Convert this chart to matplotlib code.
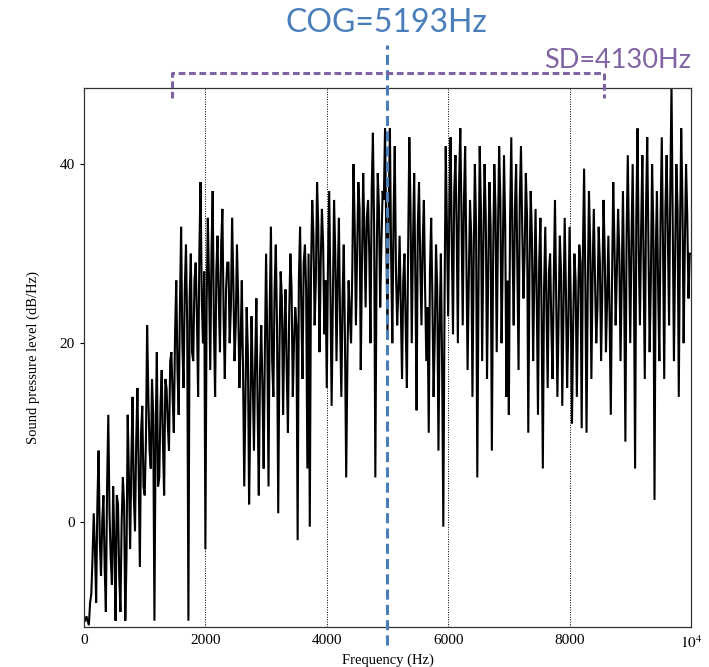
import numpy as np
import matplotlib
matplotlib.use('Agg')
import matplotlib.pyplot as plt

# spectrum levels (dB/Hz): peaks/troughs every 40 Hz ...
step = 40
spl_0k = [-11, -10.5, -11.5, -8, 1, -9, 8, -6, 3, -10, 12, -4, 4, -11, 2, -10, 5, -11, 12, -3, 14, -1, 15, -5, 13]
spl_1k = [3, 22, 8, 16, -11, 19, 5, 17, 3, 15, 8, 19, 10, 27, 12, 33, 15, 31, -11, 30, 18, 29, 14, 38, 20]
spl_2k = [-3, 34, 17, 37, 14, 32, 19, 35, 16, 29, 20, 34, 18, 31, 15, 27, 4, 24, 2, 23, 8, 25, 3, 22, 6]
spl_3k = [30, 4, 33, 14, 31, 1, 28, 12, 26, 10, 30, 14, 24, -2, 33, 16, 31, 6, -0.5, 36, 22, 38, 19, 35, 21]
spl_4k = [15, 37, 13, 36, 18, 34, 14, 31, 5, 27, 20, 40, 22, 38, 17, 39, 24, 36, 20, 43.5, 5, 39, 24, 37, 44]
spl_5k = [21, 44, 20, 42, 22, 32, 16, 30, 15, 43, 20, 39, 12.5, 38, 22, 36, 18, 10, 34, 14, 31, 8, 30, -0.5, 42]
spl_6k = [23, 43, 21, 41, 20, 44, 22, 42, 17, 36, 14, 40, 5, 42, 18, 40, 16, 38, 8, 40, 19, 42, 20, 41, 14]
spl_7k = [12, 43, 22, 40, 17, 42, 25, 39, 10, 37, 18, 35, 12, 34, 6, 33, 15, 30, 16, 36, 14, 32, 13, 34, 15]
spl_8k = [33, 11, 30, 14, 31, 10.5, 39.5, 10, 37, 16, 35, 20, 33, 18, 36, 19, 32, 12, 38, 22, 35, 18, 37, 9, 41]
spl_9k = [20, 40, 6, 44, 22, 41, 16, 43, 19, 40, 2.5, 37, 18, 43, 16, 41, 22, 49, 18, 40, 14, 44, 20, 40, 25, 30]

# ... and the body of the band in between (20 Hz offset)
mid_0k = [-11, -11, -9, -4, -3, 2, -2, 0, -5, 4, 1, -7, -2, 3, -6, 0, 2, -4, 5, 7, 3, 9, 6, 10, 4]
mid_1k = [9, 14, 6, 12, 10, 4, 13, 9, 16, 11, 18, 14, 21, 17, 24, 20, 26, 22, 25, 19, 27, 23, 30, 25, 28]
mid_2k = [24, 27, 30, 22, 28, 25, 31, 23, 26, 29, 24, 27, 22, 25, 20, 17, 14, 19, 12, 16, 18, 13, 17, 15, 19]
mid_3k = [20, 24, 18, 26, 22, 19, 25, 21, 17, 23, 26, 20, 22, 27, 24, 29, 26, 30, 28, 32, 27, 33, 29, 31, 27]
mid_4k = [29, 26, 24, 30, 27, 22, 25, 20, 18, 23, 28, 33, 30, 35, 29, 32, 34, 30, 37, 33, 28, 35, 31, 36, 33]
mid_5k = [35, 30, 34, 28, 26, 24, 27, 22, 30, 35, 31, 27, 33, 29, 31, 26, 24, 28, 25, 21, 26, 22, 18, 24, 33]
mid_6k = [35, 31, 37, 33, 38, 34, 36, 30, 27, 32, 29, 33, 26, 35, 31, 34, 28, 33, 29, 35, 32, 36, 30, 33, 27]
mid_7k = [34, 31, 35, 29, 36, 33, 30, 34, 28, 32, 27, 25, 29, 23, 26, 24, 28, 22, 27, 25, 23, 28, 24, 26, 22]
mid_8k = [25, 22, 27, 24, 29, 30, 27, 26, 31, 28, 27, 24, 29, 26, 30, 25, 23, 27, 31, 28, 30, 27, 26, 32, 30]
mid_9k = [31, 28, 34, 30, 33, 29, 35, 31, 27, 33, 30, 26, 34, 31, 35, 32, 37, 33, 30, 35, 32, 36, 31, 34, 30]

spl = np.array(spl_0k + spl_1k + spl_2k + spl_3k + spl_4k + spl_5k + spl_6k + spl_7k + spl_8k + spl_9k)
mid = np.array(mid_0k + mid_1k + mid_2k + mid_3k + mid_4k + mid_5k + mid_6k + mid_7k + mid_8k + mid_9k)
f_spl = np.arange(len(spl)) * step
f_mid = np.arange(len(mid)) * step + step // 2
freq = np.concatenate([f_spl, f_mid])
level = np.concatenate([spl, mid])
order = np.argsort(freq)
freq, level = freq[order], level[order]

cog = 4990
sd_left, sd_right = 1450, 8570
xticks = [0, 2000, 4000, 6000, 8000, 10000]
xticklabels = ['0', '2000', '4000', '6000', '8000', r'$10^4$']
yticks = [0, 20, 40]

plt.rcParams['font.family'] = ['Liberation Serif', 'DejaVu Serif']
plt.rcParams['mathtext.fontset'] = 'stix'

fig = plt.figure(figsize=(7.09, 6.67), dpi=100)
ax = fig.add_axes([0.1185, 0.060, 0.856, 0.808])

for x in xticks[1:-1]:
    ax.axvline(x, color='black', lw=0.7, ls=(0, (1, 1.5)), zorder=1)

ax.plot(freq, level, color='black', lw=1.5, solid_joinstyle='miter', zorder=2)

ax.set_xlim(0, 10000)
ax.set_ylim(-11.7, 48.5)
ax.set_xticks(xticks)
ax.set_xticklabels(xticklabels)
ax.set_yticks(yticks)
ax.tick_params(axis='both', labelsize=11, length=3, width=0.8, direction='out')
ax.tick_params(axis='x', length=0, pad=5)
for s in ax.spines.values():
    s.set_linewidth(0.9)
    s.set_color('#333333')

ax.set_xlabel('Frequency (Hz)', fontsize=10.5, labelpad=2)
ax.set_ylabel('Sound pressure level (dB/Hz)', fontsize=10.5, labelpad=14)

# centre of gravity marker
blue = '#4a7ebb'
ax.axvline(cog, ymin=-0.033, ymax=1.08, color=blue, lw=2.2,
           dashes=(3.3, 1.7), clip_on=False, zorder=3)
ax.text(cog, 1.121, 'COG=5193Hz', transform=ax.get_xaxis_transform(),
        ha='center', va='center', fontsize=23, color=blue, family='Lato')

# standard deviation bracket
purple = '#8064a2'
yb_top, yb_bot = 1.028, 0.982
ax.plot([sd_left, sd_left, sd_right, sd_right], [yb_bot, yb_top, yb_top, yb_bot],
        transform=ax.get_xaxis_transform(), color=purple, lw=2.2,
        dashes=(2.2, 1.2), clip_on=False, zorder=3)
ax.text(10000, 1.052, 'SD=4130Hz', transform=ax.get_xaxis_transform(),
        ha='right', va='center', fontsize=19.5, color=purple, family='Lato')

fig.savefig('out.png', dpi=100)
